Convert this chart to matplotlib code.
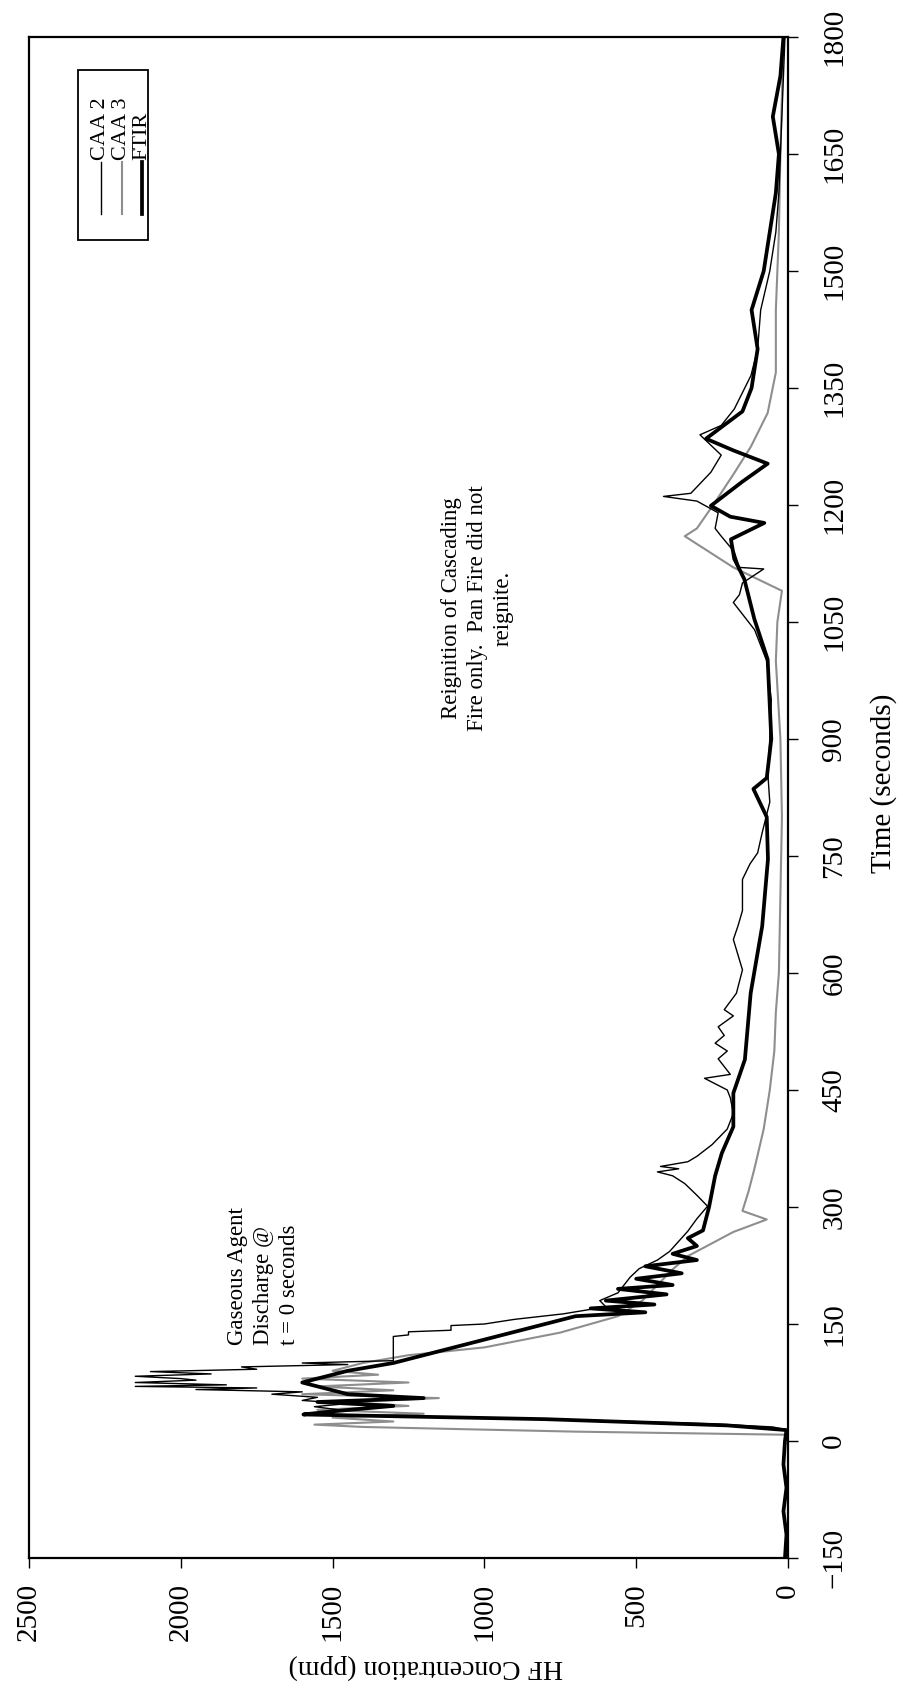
import matplotlib
matplotlib.use("Agg")
import matplotlib.pyplot as plt
from matplotlib.lines import Line2D
from matplotlib.patches import Rectangle

plt.rcParams['font.family'] = ['Liberation Serif', 'DejaVu Serif']

# Time (s) and HF concentration (ppm) for each analyser
caa2_t = [-150, 0, 14, 18, 22, 26, 30, 33, 35, 40, 44, 48, 52, 56, 60, 63, 66, 68, 70, 72, 75, 78,
          80, 83, 86, 89, 92, 95, 98, 100, 103, 134, 136, 140, 142, 148, 150, 156, 163, 172, 180,
          190, 200, 210, 221, 232, 243, 256, 269, 285, 301, 315, 330, 340, 345, 349, 352, 358, 365,
          380, 400, 420, 440, 450, 465, 470, 490, 500, 510, 520, 531, 545, 553, 574, 604, 643, 660,
          680, 720, 740, 754, 780, 819, 853, 900, 950, 1000, 1040, 1075, 1085, 1100, 1118, 1120,
          1140, 1160, 1170, 1190, 1205, 1211, 1215, 1242, 1264, 1290, 1302, 1323, 1366, 1400, 1450,
          1500, 1550, 1600, 1700, 1800]
caa2_c = [0, 0, 0, 50, 250, 600, 1000, 1400, 1560, 1480, 1560, 1450, 1600, 1550, 1700, 1600, 1950,
          1750, 2150, 1850, 2150, 1950, 2000, 2150, 1900, 2100, 1750, 1800, 1450, 1600, 1300, 1300,
          1250, 1250, 1110, 1110, 1000, 900, 740, 600, 620, 560, 540, 520, 490, 430, 390, 360, 330,
          300, 265, 300, 340, 380, 430, 360, 420, 330, 300, 250, 200, 180, 190, 200, 275, 190, 230,
          200, 240, 210, 230, 180, 210, 170, 150, 180, 165, 150, 150, 125, 100, 85, 60, 66, 60, 55,
          70, 110, 180, 160, 150, 80, 160, 177, 220, 240, 230, 300, 410, 320, 254, 220, 290, 220,
          177, 122, 100, 90, 60, 40, 30, 20, 10]

caa3_t = [-150, 0, 8, 12, 18, 21, 25, 30, 35, 40, 45, 50, 55, 60, 65, 70, 75, 80, 85, 90, 100, 110,
          120, 139, 160, 180, 200, 220, 237, 268, 284, 295, 320, 350, 400, 450, 500, 550, 600, 700,
          800, 900, 1000, 1050, 1090, 1120, 1155, 1160, 1170, 1202, 1241, 1275, 1318, 1370, 1450,
          1550, 1650, 1800]
caa3_c = [0, 0, 0, 700, 1400, 1560, 1300, 1500, 1200, 1550, 1250, 1450, 1150, 1600, 1300, 1550,
          1250, 1600, 1350, 1500, 1400, 1250, 1000, 750, 560, 480, 430, 380, 330, 180, 70, 150, 130,
          110, 80, 60, 45, 40, 30, 25, 20, 25, 40, 35, 20, 180, 320, 340, 300, 243, 177, 122, 67,
          40, 40, 30, 25, 15]

ftir_t = [-150, -120, -90, -60, -30, 0, 14, 20, 28, 34, 38, 45, 50, 55, 60, 65, 75, 90, 100, 120,
          140, 160, 165, 170, 175, 180, 188, 195, 200, 208, 215, 224, 232, 240, 250, 260, 270, 300,
          340, 369, 403, 446, 489, 574, 660, 746, 800, 836, 850, 900, 1002, 1054, 1105, 1131, 1156,
          1177, 1185, 1199, 1230, 1253, 1270, 1285, 1320, 1350, 1400, 1450, 1500, 1550, 1600, 1650,
          1698, 1750, 1800]
ftir_c = [10, 5, 15, 5, 15, 10, 5, 200, 800, 1596, 1500, 1300, 1550, 1200, 1450, 1500, 1600, 1450,
          1300, 1100, 900, 700, 470, 650, 440, 600, 400, 560, 380, 500, 350, 470, 300, 380, 300,
          330, 280, 260, 240, 218, 180, 180, 142, 123, 85, 66, 70, 114, 70, 55, 67, 111, 144, 177,
          188, 78, 190, 254, 150, 67, 180, 270, 150, 120, 100, 120, 80, 60, 40, 30, 50, 25, 15]

time_ticks = [-150, 0, 150, 300, 450, 600, 750, 900, 1050, 1200, 1350, 1500, 1650, 1800]
conc_ticks = [0, 500, 1000, 1500, 2000, 2500]

W, H = 904, 1692
fig = plt.figure(figsize=(W / 100, H / 100), dpi=100)
x0, x1, y0, y1 = 29, 788, 37, 1558
ax = fig.add_axes([x0 / W, 1 - y1 / H, (x1 - x0) / W, (y1 - y0) / H])

# Chart is laid out sideways: concentration runs right-to-left, time bottom-to-top
ax.plot(caa3_c, caa3_t, color='#8e8e8e', lw=1.5, zorder=2)
ax.plot(caa2_c, caa2_t, color='black', lw=1.0, zorder=3)
ax.plot(ftir_c, ftir_t, color='black', lw=2.7, zorder=4)

ax.set_xlim(2500, 0)
ax.set_ylim(-150, 1800)
ax.set_xticks(conc_ticks)
ax.set_yticks(time_ticks)
ax.yaxis.tick_right()
ax.yaxis.set_label_position('right')
ax.tick_params(axis='both', direction='out', length=7, width=1.0, labelsize=21)
ax.tick_params(axis='y', pad=17)
ax.tick_params(axis='x', pad=11)
for lab in ax.get_yticklabels():
    lab.set_rotation(90)
    lab.set_va('center')
    lab.set_ha('left')
for lab in ax.get_xticklabels():
    lab.set_rotation(90)
    lab.set_ha('center')
    lab.set_va('top')
for s in ax.spines.values():
    s.set_linewidth(1.6)

fig.text(884 / W, 1 - 783 / H, 'Time (seconds)', rotation=90, ha='center', va='center', fontsize=21)
fig.text(426 / W, 1 - 1667 / H, 'HF Concentration (ppm)', rotation=180, ha='center', va='center',
         fontsize=20)

ax.text(1848, 123, 'Gaseous Agent\nDischarge @\nt = 0 seconds', rotation=90, ha='left',
        va='bottom', fontsize=16.5, linespacing=1.3)
ax.text(1022, 1068, 'Reignition of Cascading\nFire only.  Pan Fire did not\nreignite.', rotation=90,
        ha='center', va='center', multialignment='center', fontsize=16.5, linespacing=1.3)

# Legend box, entries read bottom-to-top
lx0, lx1, ly0, ly1 = 78, 148, 70, 240
fig.patches.append(Rectangle((lx0 / W, 1 - ly1 / H), (lx1 - lx0) / W, (ly1 - ly0) / H,
                             transform=fig.transFigure, fill=False, lw=1.3, ec='black'))
entries = [('CAA 2', 'black', 1.0, 101), ('CAA 3', '#8e8e8e', 1.5, 122), ('FTIR', 'black', 2.7, 142)]
for name, col, lw, xc in entries:
    fig.add_artist(Line2D([xc / W, xc / W], [1 - 214 / H, 1 - 162 / H], transform=fig.transFigure,
                          color=col, lw=lw))
    fig.text(xc / W, 1 - 160 / H, name, rotation=90, ha='center', va='bottom', fontsize=16)

fig.savefig('out.png', dpi=100)
